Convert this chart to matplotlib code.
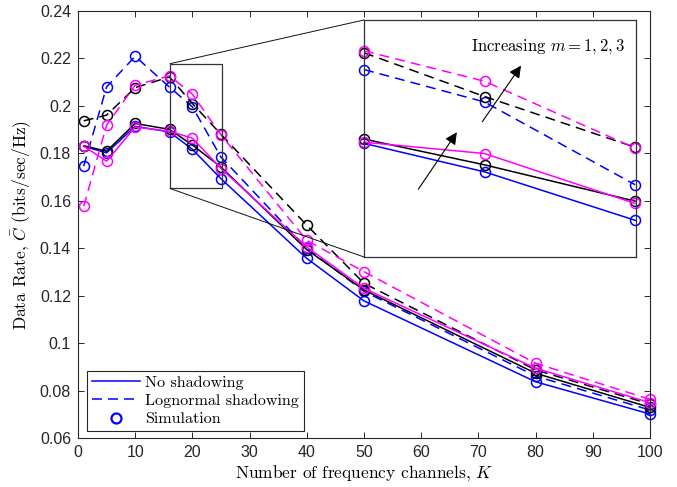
import matplotlib
matplotlib.use("Agg")
import matplotlib.pyplot as plt
from matplotlib.lines import Line2D
from matplotlib.patches import Rectangle, ConnectionPatch

plt.rcParams['mathtext.fontset'] = 'cm'
plt.rcParams['font.family'] = ['Liberation Sans', 'DejaVu Sans']

# Nombre de canaux de fréquence
K = [1, 5, 10, 16, 20, 25, 40, 50, 80, 100]

# Sans masquage (traits pleins), m = 1, 2, 3
no_shadow_m1 = [0.1830, 0.1802, 0.1914, 0.1890, 0.1817, 0.1693, 0.1357, 0.1178, 0.0837, 0.0701]
no_shadow_m2 = [0.1832, 0.1809, 0.1926, 0.1901, 0.1835, 0.1742, 0.1394, 0.1224, 0.0873, 0.0729]
no_shadow_m3 = [0.1830, 0.1767, 0.1911, 0.1893, 0.1864, 0.1736, 0.1405, 0.1231, 0.0894, 0.0749]

# Masquage lognormal (tirets), m = 1, 2, 3
logn_m1 = [0.1746, 0.2080, 0.2209, 0.2079, 0.1996, 0.1784, 0.1400, 0.1218, 0.0861, 0.0718]
logn_m2 = [0.1937, 0.1961, 0.2077, 0.2122, 0.2010, 0.1880, 0.1497, 0.1252, 0.0887, 0.0743]
logn_m3 = [0.1577, 0.1919, 0.2087, 0.2127, 0.2049, 0.1878, 0.1433, 0.1301, 0.0915, 0.0763]

x_ticks = [0, 10, 20, 30, 40, 50, 60, 70, 80, 90, 100]
y_ticks = [0.06, 0.08, 0.1, 0.12, 0.14, 0.16, 0.18, 0.2, 0.22, 0.24]
y_tick_labels = ['0.06', '0.08', '0.1', '0.12', '0.14', '0.16', '0.18', '0.2', '0.22', '0.24']

# Zone agrandie
zoom_x = (16.08, 25.12)
zoom_y = (0.1652, 0.2178)
inset_xlim = (16, 25.03)
inset_ylim = (0.1599, 0.2206)

# Couleurs : m=1 bleu, m=2 noir, m=3 magenta
colors = ['#0000ff', '#000000', '#ff00ff']
solid = [no_shadow_m1, no_shadow_m2, no_shadow_m3]
dashed = [logn_m1, logn_m2, logn_m3]

serif = 'cmr10'
axis_col = '#262626'
lw = 1.1
ms = 7.2
dash = (6.5, 4)

fig = plt.figure(figsize=(6.77, 4.87), dpi=100)
ax = fig.add_axes([0.1152, 0.1006, 0.8449, 0.8768])


def tracer(axe, xs, sl):
    for c, s, d in zip(colors, solid, dashed):
        axe.plot(xs, s[sl], '-', color=c, lw=lw, marker='o', ms=ms,
                 mfc='none', mew=1.1, clip_on=False)
        axe.plot(xs, d[sl], '--', color=c, lw=lw, dashes=dash, marker='o',
                 ms=ms, mfc='none', mew=1.1, clip_on=False)


tracer(ax, K, slice(None))

ax.set_xlim(0, 100)
ax.set_ylim(0.06, 0.24)
ax.set_xticks(x_ticks)
ax.set_yticks(y_ticks)
ax.set_yticklabels(y_tick_labels)
ax.tick_params(direction='in', length=4.5, width=0.7, colors=axis_col,
               labelsize=11.5, top=True, right=True, pad=5)
for sp in ax.spines.values():
    sp.set_color(axis_col)
    sp.set_linewidth(0.8)

ax.set_xlabel('Number of frequency channels, $K$', fontfamily=serif,
              fontsize=12.5, labelpad=2)
ax.set_ylabel(r'Data Rate, $\bar{C}$ (bits/sec/Hz)', fontfamily=serif,
              fontsize=12.5, labelpad=4)

# Rectangle de la zone agrandie
ax.add_patch(Rectangle((zoom_x[0], zoom_y[0]), zoom_x[1] - zoom_x[0],
                       zoom_y[1] - zoom_y[0], fill=False, ec='#333333',
                       lw=0.9, zorder=5))

# Légende
handles = [Line2D([], [], color='#0000ff', lw=lw),
           Line2D([], [], color='#0000ff', lw=lw, ls='--', dashes=dash),
           Line2D([], [], color='#0000ff', ls='none', marker='o', ms=ms,
                  mfc='none', mew=1.6)]
leg = ax.legend(handles, ['No shadowing', 'Lognormal shadowing', 'Simulation'],
                loc='lower left', bbox_to_anchor=(0.016, 0.016),
                borderaxespad=0, prop={'family': serif, 'size': 11.6},
                fancybox=False, framealpha=1, edgecolor=axis_col,
                handlelength=3.0, handletextpad=0.3, labelspacing=0.25,
                borderpad=0.3)
leg.get_frame().set_linewidth(0.8)

# Graphique agrandi
axin = fig.add_axes([0.5377, 0.4723, 0.4018, 0.4867])
tracer(axin, K[3:6], slice(3, 6))
axin.set_xlim(*inset_xlim)
axin.set_ylim(*inset_ylim)
axin.set_xticks([])
axin.set_yticks([])
for sp in axin.spines.values():
    sp.set_color('#333333')
    sp.set_linewidth(0.9)

axin.annotate('', xy=(0.347, 0.536), xytext=(0.194, 0.276),
              xycoords='axes fraction',
              arrowprops=dict(arrowstyle='-|>', color='k', lw=0.8,
                              mutation_scale=18))
axin.annotate('', xy=(0.583, 0.817), xytext=(0.429, 0.561),
              xycoords='axes fraction',
              arrowprops=dict(arrowstyle='-|>', color='k', lw=0.8,
                              mutation_scale=18))
axin.text(0.393, 0.886, 'Increasing $m = 1, 2, 3$', transform=axin.transAxes,
          fontfamily=serif, fontsize=12, va='center', ha='left')

# Traits reliant le rectangle au graphique agrandi
for yd, ya in [(zoom_y[1], 1), (zoom_y[0], 0)]:
    con = ConnectionPatch(xyA=(zoom_x[0], yd), coordsA=ax.transData,
                          xyB=(0, ya), coordsB=axin.transAxes,
                          color='#111111', lw=0.7, zorder=6)
    fig.add_artist(con)

fig.savefig('out.png', dpi=100)
